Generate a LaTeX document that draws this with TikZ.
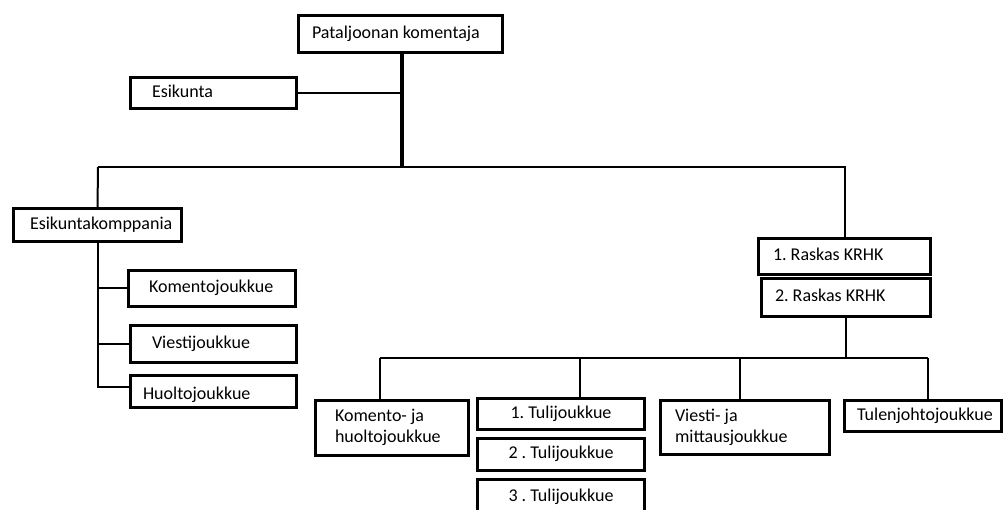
\documentclass[tikz,border=0pt]{standalone}
\usepackage{fontspec}
\setmainfont{Carlito}
\frenchspacing
\newcommand{\bxt}[3]{\makebox[#1pt][l]{\hspace*{#2pt}\begin{tabular}{@{}l@{}}#3\end{tabular}}}
\newcommand{\bxc}[2]{\makebox[#1pt][c]{\begin{tabular}{@{}c@{}}#2\end{tabular}}}
\begin{document}
\begin{tikzpicture}[x=1pt,y=-1pt,
  box/.style={draw, line width=3pt, anchor=north west, inner sep=0pt,
    outer sep=0pt, font={\fontsize{18}{21}\selectfont}},
  conn/.style={line width=2pt},
  mainconn/.style={line width=4pt}]
\useasboundingbox (0,0) rectangle (1003,510);
\clip (0,0) rectangle (1003,510);
% boxes
\node[box, minimum height=37pt] (pk) at (298.5,15.5) {\bxt{204}{13.5}{Pataljoonan komentaja}};
\node[box, minimum height=31pt] (esk) at (130.5,77.5) {\bxt{166}{21.5}{Esikunta}};
\node[box, minimum height=33pt] (ekk) at (13.5,208.5) {\bxt{168}{16.5}{Esikuntakomppania}};
\node[box, minimum height=36pt] (kom) at (128.5,270.5) {\bxt{167}{20.5}{Komentojoukkue}};
\node[box, minimum height=37pt] (vie) at (130.5,325.5) {\bxt{166}{21.5}{Viestijoukkue}};
\node[box, minimum height=32pt] (huo) at (130.5,375.5) {\bxt{166}{12.5}{\raisebox{-5pt}{Huoltojoukkue}}};
\node[box, minimum height=36pt] (r1) at (758.5,238.5) {\bxt{172}{14.5}{1. Raskas KRHK}};
\node[box, minimum height=38pt] (r2) at (761.5,278.5) {\bxt{169}{13.5}{2. Raskas KRHK}};
\node[box, minimum height=55pt] (kh) at (315.5,400.5) {\bxt{153}{19.5}{\raisebox{-2pt}{\begin{tabular}{@{}l@{}}Komento- ja\\huoltojoukkue\end{tabular}}}};
\node[box, minimum height=31pt] (t1) at (477.5,398.5) {\bxc{167}{1. Tulijoukkue}};
\node[box, minimum height=32pt] (t2) at (477.5,438.5) {\bxc{167}{2 . Tulijoukkue}};
\node[box, minimum height=35pt] (t3) at (477.5,479.5) {\bxc{167}{3 . Tulijoukkue}};
\node[box, minimum height=54pt] (vm) at (660.5,400.5) {\bxt{169}{14.5}{\raisebox{-3pt}{\begin{tabular}{@{}l@{}}Viesti- ja\\mittausjoukkue\end{tabular}}}};
\node[box, minimum height=31pt] (tj) at (844.5,400.5) {\bxt{157}{12.5}{Tulenjohtojoukkue}};
% bus coordinates
\coordinate (bus) at (402,167);
\coordinate (busL) at (98,167);
\coordinate (bus2) at (846,358);
\coordinate (dkh) at (380,358);
\coordinate (dt1) at (580,358);
\coordinate (dvm) at (740,358);
\coordinate (dtj) at (928,358);
% connectors
\draw[mainconn] (pk.south -| bus) -- (bus);
\draw[conn] (esk.east) -- (esk.east -| bus);
\draw[conn] (busL) -- (bus) -- (bus -| r1.north) -- (r1.north);
\draw[conn] (busL) -- (ekk.north);
\draw[conn] (ekk.south) |- ([yshift=4.5pt]huo.west);
\draw[conn] (kom.west) -- (kom.west -| ekk.south);
\draw[conn] (vie.west) -- (vie.west -| ekk.south);
\draw[conn] (r2.south -| bus2) -- (bus2);
\draw[conn] (dkh) -- (dtj);
\draw[conn] (dkh) -- (dkh |- kh.north);
\draw[conn] (dt1) -- (dt1 |- t1.north);
\draw[conn] (dvm) -- (dvm |- vm.north);
\draw[conn] (dtj) -- (dtj |- tj.north);
\end{tikzpicture}
\end{document}
